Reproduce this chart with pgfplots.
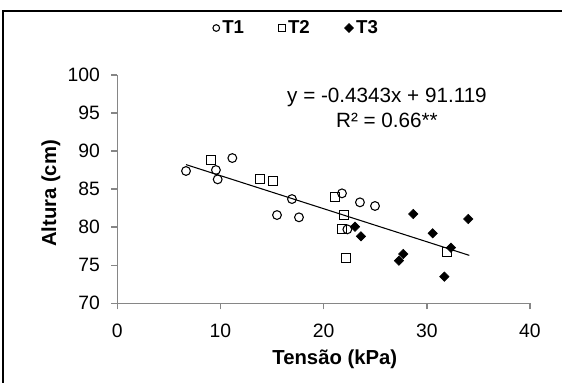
\documentclass[border=0pt]{standalone}
\usepackage{fontspec}
\setmainfont{Liberation Sans}
\usepackage{pgfplots}
\pgfplotsset{compat=1.18}
\definecolor{axisgray}{RGB}{134,134,134}
\begin{document}
\begin{tikzpicture}
\useasboundingbox (-87.975pt,-59.775pt) rectangle (333.525pt,227.475pt);
\draw[line width=1.5pt] (-85.95pt,-70pt) -- (-85.95pt,219.45pt) -- (345pt,219.45pt);
\begin{axis}[
  at={(0,0)}, anchor=south west,
  scale only axis, width=309.5pt, height=171.2pt,
  xmin=0, xmax=40, ymin=70, ymax=100,
  xtick={0,10,20,30,40}, ytick={70,75,80,85,90,95,100},
  axis x line*=bottom, axis y line*=left,
  axis line style={-, draw=axisgray, line width=1.1pt},
  tick align=outside, major tick length=4.5pt,
  tick style={draw=axisgray, line width=1.1pt},
  /pgf/number format/assume math mode=true,
  ticklabel style={font=\fontsize{14.5}{16}\selectfont},
  xticklabel style={anchor=base, yshift=-21pt},
  yticklabel style={anchor=east, inner sep=0pt, xshift=-8.3pt},
  xlabel={\textbf{Tensão (kPa)}},
  ylabel={\textbf{Altura (cm)}},
  xlabel style={at={(axis description cs:0.527,-0.245)}, anchor=center, font=\fontsize{15.2}{17}\selectfont},
  ylabel style={at={(axis description cs:-0.161,0.481)}, anchor=center, rotate=0, font=\fontsize{15.2}{17}\selectfont},
  legend style={draw=none, fill=none, at={(axis description cs:0.435,1.206)}, anchor=center,
    font=\fontsize{14}{15}\selectfont\bfseries,
    /tikz/every even column/.append style={column sep=24pt}},
  legend columns=3,
  legend image code/.code={\draw[mark repeat=2,mark phase=2,#1] plot coordinates {(0cm,0cm) (0.15cm,0cm) (0.3cm,0cm)};},
  clip=false,
]
\addplot[only marks, mark=o, mark size=3.3pt, mark options={draw=black, line width=0.8pt, fill=white},
  legend image post style={mark size=2.5pt, line width=1.1pt}] coordinates {
  (6.66,87.39) (9.56,87.52) (9.73,86.29) (11.15,89.09) (15.48,81.6) (16.93,83.7)
  (17.61,81.3) (21.78,84.45) (22.3,79.72) (23.52,83.27) (24.98,82.79)
};
\addlegendentry{T1}
\addplot[only marks, mark=square, mark size=3.3pt, mark options={draw=black, line width=0.8pt},
  legend image post style={mark size=2.5pt, line width=1.1pt}] coordinates {
  (9.11,88.87) (13.8,86.29) (15.06,86.07) (21.13,83.97) (21.94,81.6) (21.78,79.72)
  (22.17,75.95) (31.99,76.79)
};
\addlegendentry{T2}
\addplot[only marks, mark=square*, mark size=2.5pt, mark options={draw=black, fill=black, rotate=45},
  legend image post style={mark size=2.4pt}] coordinates {
  (23.04,80.07) (23.62,78.8) (27.3,75.6) (27.72,76.48) (28.69,81.74) (30.57,79.2)
  (32.34,77.31) (31.7,73.5) (34.02,81.08)
};
\addlegendentry{T3}
\addplot[black, line width=0.8pt, no marks, forget plot] coordinates {(6.66,88.227) (34.12,76.301)};
\node[align=center, font=\fontsize{15.5}{18.75}\selectfont] at (axis cs:26.14,95.73)
  {y = -0.4343x + 91.119\\R² = 0.66**};
\end{axis}
\end{tikzpicture}
\end{document}
